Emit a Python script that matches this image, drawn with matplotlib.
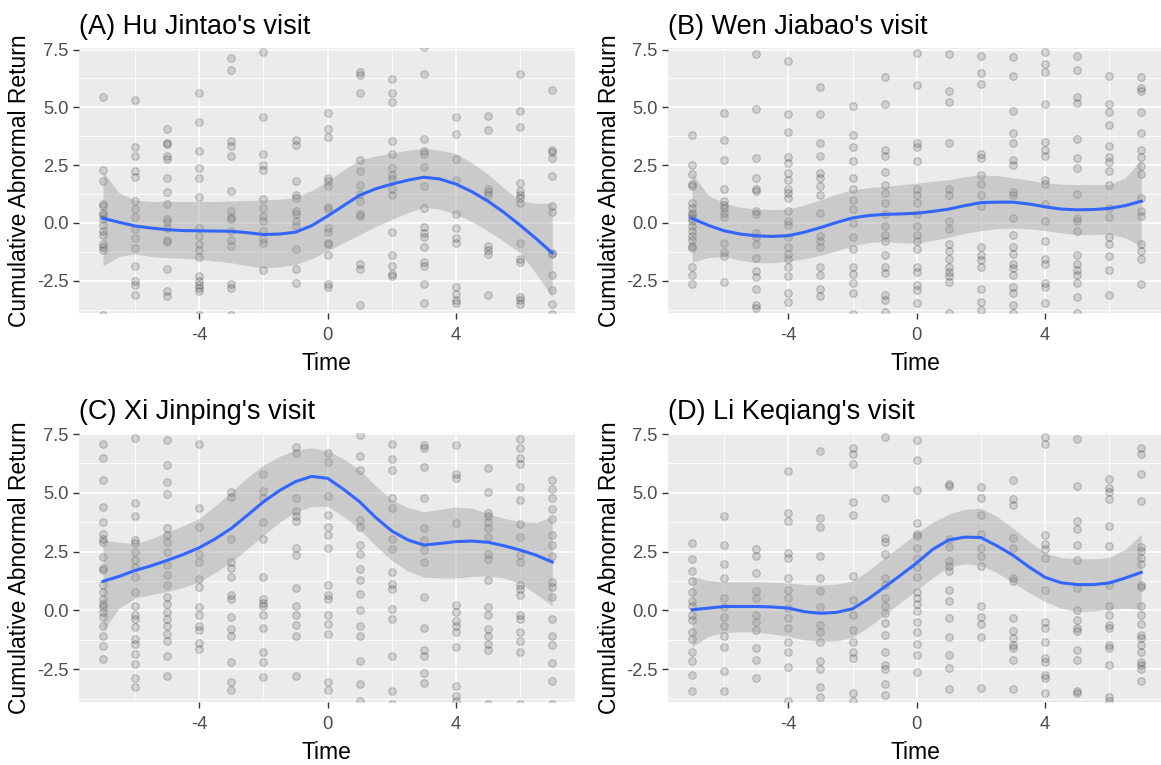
import matplotlib
matplotlib.use("Agg")
import matplotlib.pyplot as plt

### 데이터 ###
times = [-7, -6, -5, -4, -3, -2, -1, 0, 1, 2, 3, 4, 5, 6, 7]

# 각 시점별 누적 초과수익률 (점)
hu_points = [
    [5.45, 2.3, 1.8, 0.8, 0.72, 0.45, 0.35, 0.15, -0.1, -0.35, -0.5, -0.9, -1.05, -1.15, -4.0],
    [5.3, 3.3, 2.9, 2.25, 1.97, 0.95, 0.6, 0.25, -0.25, -0.65, -1.1, -1.85, -2.5, -2.7, -3.1],
    [4.05, 3.45, 3.42, 2.9, 2.78, 1.95, 1.33, 0.8, 0.15, 0.02, -0.2, -0.72, -0.82, -2.0, -2.95, -3.15],
    [5.63, 4.37, 3.1, 2.37, 1.94, 1.12, -0.2, -0.55, -0.9, -1.17, -1.48, -2.3, -2.5, -2.7, -2.8, -2.95, -4.0],
    [7.15, 6.63, 3.55, 3.35, 2.9, 1.4, 0.5, 0.25, 0.15, -0.35, -0.75, -1.0, -2.65, -2.8, -4.0],
    [7.4, 4.6, 2.97, 2.5, 2.3, 1.05, 0.63, 0.3, 0.1, -0.35, -0.7, -0.88, -2.05],
    [3.6, 3.37, 1.83, 1.23, 1.1, 0.5, 0.37, 0.08, -0.13, -1.13, -2.0, -2.6],
    [4.77, 4.05, 3.72, 1.95, 1.8, 1.6, 0.67, 0.6, -0.2, -0.37, -0.85, -0.92, -1.4, -2.63, -2.77],
    [6.55, 6.4, 5.63, 2.73, 2.25, 1.65, 1.25, 0.95, 0.4, 0.3, -1.77, -2.0, -3.55],
    [6.23, 5.63, 5.23, 3.55, 3.0, 2.37, 2.09, 1.9, 1.45, 1.2, -0.38, -1.4, -1.85, -2.2, -2.28],
    [7.6, 6.45, 3.65, 3.1, 3.0, 2.4, 1.58, 0.65, -0.17, -0.42, -0.62, -1.05, -1.7, -1.85, -2.65, -3.45],
    [4.6, 3.83, 2.77, 1.87, 0.4, -0.2, -0.65, -0.88, -2.77, -3.08, -3.35, -3.45],
    [4.63, 4.0, 1.47, 1.35, 1.2, -0.98, -1.17, -1.35, -3.13],
    [6.45, 4.83, 4.17, 1.73, 1.4, 1.23, 1.1, 0.87, -0.85, -1.55, -1.7, -3.2, -3.35, -3.5],
    [5.77, 3.15, 3.08, 2.83, 2.05, 0.73, 0.47, -1.3, -1.35, -2.25, -2.9, -3.5, -3.95],
]
wen_points = [
    [3.8, 2.5, 2.1, 1.7, 1.6, 0.87, 0.65, 0.45, 0.35, 0.22, 0.08, -0.12, -0.35, -0.55, -0.75, -1.0, -1.07, -1.9, -2.27, -2.63],
    [4.77, 3.6, 2.73, 1.48, 0.95, 0.78, 0.66, 0.45, 0.25, -0.85, -1.27, -1.42, -2.56],
    [7.3, 4.92, 2.8, 1.93, 1.48, 1.4, 0.5, 0.37, -0.42, -0.62, -0.9, -1.52, -2.08, -2.35, -2.85, -3.55, -3.7],
    [7.0, 4.73, 3.93, 2.87, 2.6, 2.15, 1.87, 1.45, 1.3, 1.1, 0.5, 0.08, -0.1, -0.62, -1.05, -1.35, -1.57, -1.9, -2.3, -3.02, -3.4],
    [5.9, 4.73, 3.45, 2.9, 2.15, 1.95, 1.58, 1.23, 0.45, -0.55, -0.77, -1.05, -1.9, -2.27, -2.85, -3.17],
    [5.05, 3.8, 3.3, 2.68, 1.95, 1.45, 1.0, 0.6, 0.0, -0.62, -1.13, -1.9, -2.2, -2.6, -3.03, -3.95],
    [6.3, 5.15, 3.15, 2.9, 2.22, 1.65, 1.3, 0.87, 0.37, -0.13, -0.5, -0.77, -1.4, -1.9, -2.17, -3.12, -3.35, -3.85],
    [7.35, 5.97, 3.45, 3.3, 2.67, 1.45, 1.23, 0.88, 0.4, -0.13, -0.5, -0.77, -1.12, -1.9, -2.13, -2.7, -2.9, -3.45],
    [7.3, 5.7, 5.25, 3.45, 1.48, 1.2, 0.1, -0.27, -0.9, -1.23, -1.55, -1.9, -2.1, -2.3, -2.55, -3.9],
    [7.23, 6.5, 6.0, 2.97, 2.83, 2.08, 1.7, 1.23, 0.73, -1.03, -1.37, -1.6, -1.9, -2.85, -3.4, -3.77],
    [7.2, 6.37, 4.83, 3.9, 3.45, 2.73, 2.5, 1.35, 1.23, 0.22, -0.5, -1.05, -1.35, -1.77, -1.95, -2.27, -2.77, -3.05, -3.55, -3.9],
    [7.4, 6.87, 6.55, 5.15, 3.5, 3.15, 2.9, 1.87, 1.7, 0.8, 0.08, -0.77, -1.55, -1.77, -2.6, -2.77, -3.45],
    [7.23, 6.63, 5.45, 5.2, 3.65, 2.8, 2.37, 1.25, 0.22, 0.08, -0.35, -1.4, -1.77, -2.03, -2.27, -2.6, -3.22, -3.9],
    [6.37, 5.15, 4.8, 4.25, 3.33, 2.87, 2.65, 2.25, 1.65, 0.65, 0.25, -0.6, -0.92, -1.45, -2.03, -3.13],
    [6.3, 5.83, 5.7, 4.8, 3.87, 3.15, 2.87, 2.45, 2.1, 1.1, 0.5, 0.3, -0.9, -1.2, -1.55, -2.63],
]
xi_points = [
    [7.1, 6.5, 5.55, 4.4, 3.75, 3.27, 3.05, 2.92, 2.28, 1.8, 1.7, 1.07, 0.78, 0.5, 0.28, 0.14, -0.07, -0.28, -0.64, -1.07, -1.5, -2.06],
    [7.33, 4.55, 4.03, 3.0, 2.85, 2.5, 2.13, 1.85, 1.42, 0.78, 0.2, -0.2, -0.35, -0.7, -1.2, -1.42, -1.85, -2.28, -2.88, -3.27],
    [7.25, 6.2, 5.48, 4.95, 3.5, 3.2, 2.92, 2.5, 1.95, 1.52, 1.07, 0.57, 0.28, -0.07, -0.35, -0.64, -1.0, -1.28, -1.92, -2.77],
    [7.1, 4.35, 3.55, 2.42, 2.06, 1.35, 1.0, 0.14, -0.2, -0.64, -0.85, -1.38, -1.63],
    [5.05, 4.84, 3.03, 2.06, 1.8, 1.42, 0.64, 0.5, -0.28, -0.78, -1.07, -2.18, -3.03, -3.37],
    [5.8, 5.08, 4.77, 3.75, 3.03, 1.42, 0.5, 0.33, 0.2, -0.2, -0.75, -1.78, -2.18, -2.84],
    [6.97, 6.7, 4.77, 4.22, 4.03, 3.8, 2.66, 2.35, 0.95, 0.18, -0.2, -0.6, -1.07, -2.77],
    [6.7, 6.33, 4.88, 4.08, 3.56, 3.2, 2.66, 1.07, 0.64, 0.5, -0.18, -0.57, -1.0, -3.03, -3.4],
    [7.45, 6.55, 5.97, 3.84, 3.56, 2.77, 2.42, 1.78, 1.28, 0.7, 0.0, -0.64, -1.07, -2.13, -3.13, -3.84],
    [7.1, 6.45, 5.97, 4.77, 4.37, 3.06, 2.63, 1.64, 1.14, 0.9, 0.07, -0.36, -1.95, -3.41, -3.98],
    [7.04, 6.9, 6.12, 4.8, 3.5, 3.0, 2.56, 2.06, 0.57, -0.75, -1.66, -1.95, -2.66, -3.09],
    [7.04, 5.8, 5.65, 3.7, 0.24, -0.07, -0.43, -0.64, -0.92, -1.56, -3.2, -3.63, -3.84],
    [6.05, 5.05, 4.13, 4.0, 3.77, 3.5, 3.13, 2.42, 2.18, 1.28, 0.14, -0.21, -0.78, -1.07, -1.42, -1.7, -3.98],
    [7.3, 6.93, 6.47, 6.22, 5.26, 4.69, 3.66, 3.13, 2.38, 2.06, 1.07, 0.92, 0.64, -0.21, -0.36, -0.9, -1.28, -1.78, -3.98],
    [5.55, 5.16, 4.77, 4.3, 3.88, 3.23, 2.77, 2.32, 1.21, 1.0, 0.57, -0.36, -1.07, -1.46, -2.23, -2.99, -3.98],
]
li_points = [
    [2.85, 2.17, 1.67, 1.24, 0.8, 0.4, 0.17, -0.19, -0.4, -0.9, -1.2, -1.76, -2.15, -2.75, -3.44],
    [4.0, 2.79, 1.98, 1.36, 0.53, 0.13, -0.26, -0.64, -1.07, -1.54, -2.59, -3.44],
    [2.6, 2.31, 1.6, 0.81, 0.53, -0.19, -0.47, -0.83, -1.61, -2.11, -2.87],
    [5.93, 4.13, 3.8, 2.46, 2.24, 1.39, 0.89, 0.53, 0.1, -0.33, -0.76, -1.33, -1.76, -2.4, -3.87],
    [6.77, 3.93, 3.53, 2.31, 1.4, 0.81, 0.13, -0.61, -0.9, -1.33, -2.16, -2.47, -3.26, -3.69],
    [6.93, 6.67, 6.24, 4.6, 4.07, 1.46, 0.46, -0.19, -0.83, -1.33, -1.76, -2.04, -3.5, -3.83],
    [7.36, 4.8, 3.07, 2.9, 2.39, 1.39, 1.1, 0.53, 0.17, -0.11, -0.54, -1.04, -1.76, -2.33, -2.5, -3.11, -3.61],
    [7.25, 6.4, 5.13, 3.74, 3.27, 3.17, 2.67, 2.24, 1.84, 1.41, 0.79, 0.53, 0.27, -0.04, -0.47, -0.93, -1.44, -1.9, -2.61],
    [5.38, 5.3, 3.03, 2.7, 2.1, 1.89, 1.67, 0.89, 0.39, -0.33, -1.11, -1.9, -2.44, -3.36],
    [5.24, 4.79, 4.07, 3.27, 2.67, 2.31, 1.89, 0.17, -0.26, -0.59, -1.11, -3.3],
    [5.53, 4.74, 4.5, 3.07, 2.67, 1.36, 1.27, -0.33, -0.87, -1.19, -1.47, -1.61, -2.11, -3.36],
    [7.39, 7.1, 3.21, 2.84, 2.6, 2.24, 0.89, -0.5, -0.76, -1.33, -2.01, -2.19, -2.76, -2.87, -3.5],
    [7.31, 5.31, 3.79, 3.46, 2.79, 2.13, 0.96, 0.03, -0.4, -0.76, -0.87, -1.69, -2.11, -3.44, -3.5],
    [5.6, 5.21, 5.03, 4.74, 3.6, 2.74, 1.1, 0.17, -0.19, -0.61, -0.76, -1.47, -1.61, -2.3, -3.69, -3.83],
    [6.89, 6.67, 5.79, 4.64, 2.7, 2.53, 2.24, 1.96, 1.1, 0.99, 0.17, -0.19, -0.59, -1.04, -1.19, -1.47, -1.76, -2.19, -2.33, -2.47, -3.01],
]

# 평활 곡선 (loess) 과 신뢰구간, 0.5 간격
smooth_x = [-7, -6.5, -6, -5.5, -5, -4.5, -4, -3.5, -3, -2.5, -2, -1.5, -1, -0.5, 0,
            0.5, 1, 1.5, 2, 2.5, 3, 3.5, 4, 4.5, 5, 5.5, 6, 6.5, 7]

hu_fit = [0.2, 0.03, -0.13, -0.22, -0.29, -0.33, -0.34, -0.35, -0.36, -0.42, -0.5, -0.48, -0.4, -0.12, 0.3,
          0.75, 1.2, 1.48, 1.68, 1.85, 1.98, 1.9, 1.68, 1.35, 0.94, 0.45, -0.1, -0.68, -1.3]
hu_hi = [2.23, 1.3, 0.98, 0.93, 0.93, 0.93, 0.93, 0.93, 0.95, 0.97, 1.0, 1.03, 1.1, 1.4, 1.8,
         2.3, 2.73, 2.9, 3.02, 3.15, 3.23, 3.15, 3.0, 2.6, 2.1, 1.5, 0.95, 0.85, 0.85]
hu_lo = [-1.85, -1.45, -1.34, -1.45, -1.5, -1.53, -1.57, -1.65, -1.72, -1.85, -1.95, -1.9, -1.8, -1.55, -1.2,
         -0.85, -0.5, -0.15, 0.15, 0.45, 0.68, 0.6, 0.38, 0.05, -0.35, -0.8, -1.3, -2.2, -3.2]

wen_fit = [0.2, -0.1, -0.34, -0.48, -0.56, -0.58, -0.55, -0.4, -0.2, 0.02, 0.22, 0.32, 0.37, 0.39, 0.42,
           0.5, 0.6, 0.75, 0.88, 0.9, 0.9, 0.82, 0.7, 0.6, 0.57, 0.58, 0.63, 0.75, 0.94]
wen_hi = [2.15, 1.2, 0.87, 0.68, 0.6, 0.58, 0.6, 0.78, 1.0, 1.25, 1.43, 1.53, 1.58, 1.65, 1.72,
          1.8, 1.87, 2.0, 2.08, 2.05, 1.95, 1.85, 1.73, 1.68, 1.66, 1.66, 1.66, 1.95, 2.75]
wen_lo = [-1.7, -1.5, -1.45, -1.62, -1.72, -1.72, -1.65, -1.55, -1.4, -1.2, -0.99, -0.85, -0.8, -0.85, -0.88,
          -0.75, -0.62, -0.45, -0.33, -0.25, -0.22, -0.25, -0.33, -0.43, -0.5, -0.5, -0.48, -0.65, -1.0]

xi_fit = [1.24, 1.45, 1.7, 1.9, 2.13, 2.38, 2.67, 3.05, 3.49, 4.05, 4.62, 5.1, 5.48, 5.7, 5.62,
          5.15, 4.62, 3.95, 3.38, 3.0, 2.78, 2.85, 2.93, 2.95, 2.9, 2.75, 2.57, 2.35, 2.06]
xi_hi = [3.0, 2.9, 2.84, 3.05, 3.34, 3.6, 3.92, 4.45, 5.05, 5.65, 6.19, 6.55, 6.82, 6.92, 6.78,
         6.45, 5.97, 5.3, 4.7, 4.38, 4.2, 4.3, 4.4, 4.35, 4.12, 3.92, 3.78, 3.75, 3.98]
xi_lo = [-0.85, 0.1, 0.52, 0.68, 0.8, 0.98, 1.22, 1.62, 2.06, 2.62, 3.2, 3.75, 4.2, 4.42, 4.42,
         4.0, 3.45, 2.75, 2.12, 1.68, 1.42, 1.38, 1.38, 1.45, 1.47, 1.38, 1.15, 0.7, 0.2]

li_fit = [0.03, 0.1, 0.17, 0.17, 0.17, 0.15, 0.1, -0.05, -0.12, -0.08, 0.07, 0.5, 1.0, 1.5, 2.02,
          2.6, 3.0, 3.12, 3.1, 2.75, 2.35, 1.85, 1.41, 1.18, 1.1, 1.1, 1.17, 1.38, 1.62]
li_hi = [1.45, 1.28, 1.22, 1.22, 1.22, 1.2, 1.17, 1.1, 1.08, 1.12, 1.25, 1.7, 2.25, 2.75, 3.3,
         3.75, 4.1, 4.3, 4.35, 4.0, 3.5, 2.95, 2.45, 2.25, 2.2, 2.2, 2.25, 2.6, 3.25]
li_lo = [-1.55, -1.1, -0.95, -0.9, -0.92, -1.0, -1.1, -1.25, -1.3, -1.3, -1.15, -0.7, -0.2, 0.35, 0.85,
         1.4, 1.85, 1.98, 1.92, 1.6, 1.2, 0.75, 0.38, 0.1, -0.05, -0.02, 0.05, 0.1, 0.05]

titles = ["(A) Hu Jintao's visit", "(B) Wen Jiabao's visit",
          "(C) Xi Jinping's visit", "(D) Li Keqiang's visit"]
y_ticks = [-2.5, 0.0, 2.5, 5.0, 7.5]
y_tick_labels = ["-2.5", "0.0", "2.5", "5.0", "7.5"]
x_ticks = [-4, 0, 4]


### 시각화 ###
plt.rcParams["font.family"] = ["Liberation Sans", "DejaVu Sans"]

fig = plt.figure(figsize=(11.61, 7.65), dpi=100)

# 패널 위치 (left, bottom, width, height)
positions = [
    (0.068, 0.591, 0.427, 0.346),
    (0.5754, 0.591, 0.427, 0.346),
    (0.068, 0.0824, 0.427, 0.352),
    (0.5754, 0.0824, 0.427, 0.352),
]
panels = [
    (hu_points, hu_fit, hu_lo, hu_hi),
    (wen_points, wen_fit, wen_lo, wen_hi),
    (xi_points, xi_fit, xi_lo, xi_hi),
    (li_points, li_fit, li_lo, li_hi),
]

for pos, title, (pts, fit, lo, hi) in zip(positions, titles, panels):
    ax = fig.add_axes(pos)
    ax.set_facecolor("#EBEBEB")
    for sp in ax.spines.values():
        sp.set_visible(False)

    # 그리드
    for v in [-3.75, -1.25, 1.25, 3.75, 6.25]:
        ax.axhline(v, color="white", lw=0.6, zorder=0)
    for v in [-6, -2, 2, 6]:
        ax.axvline(v, color="white", lw=0.6, zorder=0)
    for v in y_ticks:
        ax.axhline(v, color="white", lw=1.2, zorder=0)
    for v in x_ticks:
        ax.axvline(v, color="white", lw=1.2, zorder=0)

    # 점
    xs, ys = [], []
    for t, vals in zip(times, pts):
        xs += [t] * len(vals)
        ys += vals
    ax.scatter(xs, ys, s=30, facecolor=(0, 0, 0, 0.12), edgecolor=(0, 0, 0, 0.2),
               linewidths=0.8, zorder=2)

    # 신뢰구간과 평활 곡선
    ax.fill_between(smooth_x, lo, hi, color="#999999", alpha=0.4, lw=0, zorder=3)
    ax.plot(smooth_x, fit, color="#3366FF", lw=2.2, zorder=4)

    ax.set_xlim(-7.75, 7.7)
    ax.set_ylim(-3.89, 7.56)
    ax.set_xticks(x_ticks)
    ax.set_xticklabels([str(t) for t in x_ticks])
    ax.set_yticks(y_ticks)
    ax.set_yticklabels(y_tick_labels)
    ax.tick_params(axis="both", length=4.5, width=1, color="#333333",
                   labelcolor="#4D4D4D", labelsize=13.2)
    ax.tick_params(axis="x", pad=5.5)
    ax.tick_params(axis="y", pad=3)

    ax.set_xlabel("Time", fontsize=16.5, color="black", labelpad=6)
    ax.set_ylabel("Cumulative Abnormal Return", fontsize=16.5, color="black", labelpad=4)
    ax.set_title(title, loc="left", fontsize=19.5, color="black", pad=10)

fig.savefig("out.png", dpi=100)
